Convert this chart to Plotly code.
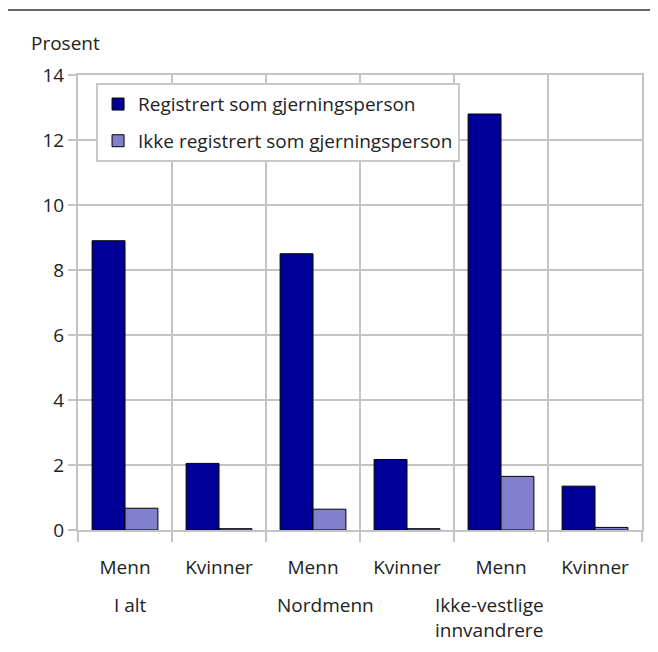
import plotly.graph_objects as go

categories = ["Menn", "Kvinner", "Menn", "Kvinner", "Menn", "Kvinner"]
groups = ["I alt", "Nordmenn", "Ikke-vestlige<br>innvandrere"]
registrert = [8.9, 2.05, 8.5, 2.17, 12.8, 1.35]
ikke_registrert = [0.67, 0.04, 0.64, 0.04, 1.65, 0.08]
series_names = ["Registrert som gjerningsperson", "Ikke registrert som gjerningsperson"]
y_ticks = [0, 2, 4, 6, 8, 10, 12, 14]

FONT = "Open Sans"
FS = 19
GRID = "#c4c4c4"
TXT = "#222222"
xpos = [i + 0.5 for i in range(len(categories))]

fig = go.Figure()
fig.add_trace(go.Bar(x=xpos, y=registrert, name=series_names[0], legendgroup="a",
                     marker=dict(color="#000099", line=dict(color="#000000", width=1))))
fig.add_trace(go.Bar(x=xpos, y=ikke_registrert, name=series_names[1], legendgroup="b",
                     marker=dict(color="#8080cc", line=dict(color="#000000", width=1))))

# page body adds an 8px offset, so the figure is 8px smaller and margins shifted
fig.update_layout(
    width=650, height=644,
    margin=dict(l=70, r=16, t=67, b=122),
    paper_bgcolor="white", plot_bgcolor="white",
    font=dict(family=FONT, size=FS, color=TXT),
    barmode="group", bargap=0.3, bargroupgap=0,
    showlegend=True,
    legend=dict(x=0.032, y=0.982, xanchor="left", yanchor="top",
                bgcolor="white", bordercolor="#c8c8c8", borderwidth=2,
                font=dict(family=FONT, size=FS, color=TXT),
                traceorder="grouped", tracegroupgap=9),
    xaxis=dict(range=[0, len(categories)], tickmode="array", tickvals=xpos, ticktext=categories,
               ticks="outside", ticklen=19, tickcolor="rgba(0,0,0,0)",
               showgrid=False, zeroline=False,
               showline=True, linecolor=GRID, linewidth=2, mirror=True,
               minor=dict(tickmode="linear", tick0=0, dtick=1, showgrid=True, gridcolor=GRID,
                          gridwidth=2, ticks="outside", ticklen=10, tickcolor=GRID, tickwidth=2)),
    yaxis=dict(range=[0, 14], tickmode="array", tickvals=y_ticks,
               ticks="outside", ticklen=8, tickcolor=GRID, tickwidth=2,
               showgrid=True, gridcolor=GRID, gridwidth=2, zeroline=False,
               showline=True, linecolor=GRID, linewidth=2, mirror=True),
)

fig.add_annotation(text="Prosent", xref="paper", yref="paper", x=-0.086, y=1.071,
                   xanchor="left", yanchor="middle", showarrow=False,
                   font=dict(family=FONT, size=FS, color=TXT))

group_x = [0.56, 2.63, 3.78]
group_anchor = ["center", "center", "left"]
for gx, gt, ga in zip(group_x, groups, group_anchor):
    fig.add_annotation(text=gt, xref="x", yref="paper", x=gx, y=-0.132,
                       xanchor=ga, yanchor="top", align="left", showarrow=False,
                       font=dict(family=FONT, size=FS, color=TXT))

fig.add_shape(type="line", xref="paper", yref="paper",
              x0=-70 / 564, x1=580 / 564, y0=520 / 455, y1=520 / 455,
              line=dict(color="#333333", width=1.5))

fig.write_html("out.html")
